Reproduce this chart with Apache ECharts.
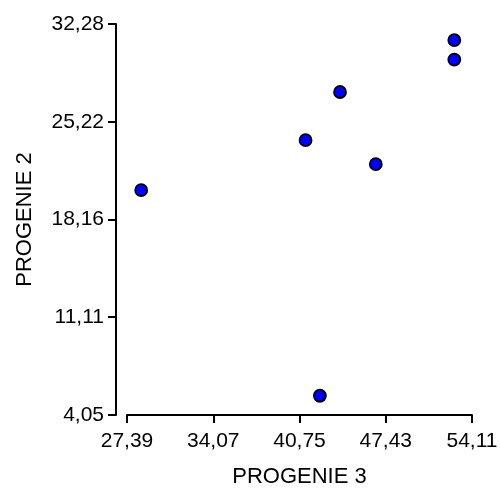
<!DOCTYPE html>
<html>
<head>
<meta charset="utf-8">
<script src="https://cdn.jsdelivr.net/npm/echarts@6/dist/echarts.min.js"></script>
<style>html,body{margin:0;padding:0;background:#fff}#c{width:500px;height:488px}</style>
</head>
<body>
<div id="c"></div>
<script>
// Data
var progenie3 = [28.49, 41.22, 43.89, 46.66, 52.74, 52.74, 42.33];
var progenie2 = [20.28, 23.89, 27.37, 22.16, 31.12, 29.71, 5.44];
var xTicks = [27.39, 34.07, 40.75, 47.43, 54.11];
var yTicks = [4.05, 11.11, 18.16, 25.22, 32.28];
var xName = 'PROGENIE 3';
var yName = 'PROGENIE 2';

var points = progenie3.map(function (x, i) { return [x, progenie2[i]]; });
function fmt(v) { return v.toFixed(2).replace('.', ','); }
var font = 'Liberation Sans, Arial, sans-serif';

var chart = echarts.init(document.getElementById('c'));
chart.setOption({
  animation: false,
  backgroundColor: '#fff',
  grid: { left: 127, right: 28, top: 24, bottom: 73, containLabel: false, outerBoundsMode: 'none' },
  xAxis: {
    type: 'value',
    min: xTicks[0], max: xTicks[xTicks.length - 1],
    splitLine: { show: false },
    axisLine: { show: true, onZero: false, lineStyle: { color: '#000', width: 2 } },
    axisTick: { show: true, length: 8, customValues: xTicks, lineStyle: { color: '#000', width: 2 } },
    axisLabel: { customValues: xTicks, formatter: fmt, color: '#000', fontSize: 21, fontFamily: font, margin: 16 },
    name: xName, nameLocation: 'middle', nameGap: 51,
    nameTextStyle: { color: '#000', fontSize: 22, fontFamily: font }
  },
  yAxis: {
    type: 'value',
    min: yTicks[0], max: yTicks[yTicks.length - 1],
    offset: 11,
    splitLine: { show: false },
    axisLine: { show: true, onZero: false, lineStyle: { color: '#000', width: 2 } },
    axisTick: { show: true, length: 8, customValues: yTicks, lineStyle: { color: '#000', width: 2 } },
    axisLabel: { customValues: yTicks, formatter: fmt, color: '#000', fontSize: 21, fontFamily: font, margin: 12 },
    name: yName, nameLocation: 'middle', nameGap: 80,
    nameTextStyle: { color: '#000', fontSize: 22, fontFamily: font }
  },
  series: [{
    type: 'scatter',
    data: points,
    symbol: 'circle',
    symbolSize: 12,
    itemStyle: { color: '#0000ff', borderColor: '#000', borderWidth: 1.8, opacity: 1 }
  }]
});
</script>
</body>
</html>
